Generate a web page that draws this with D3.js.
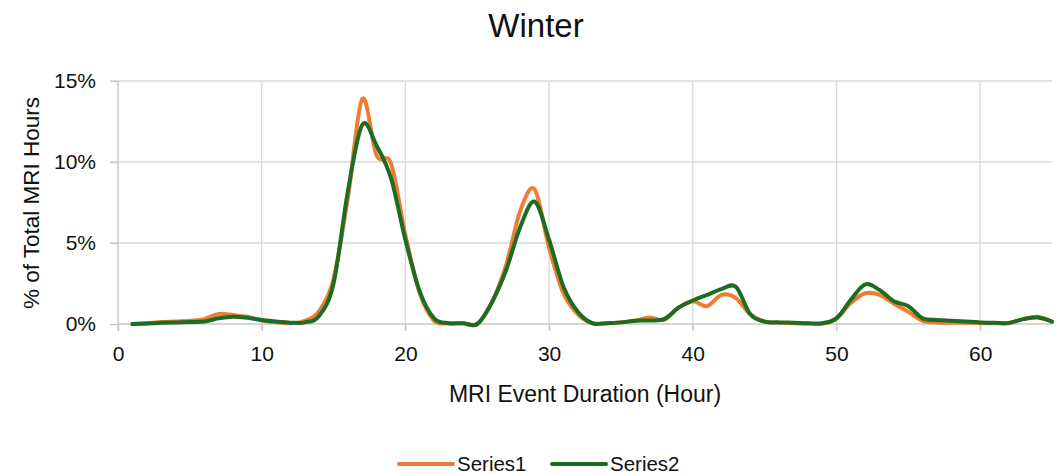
<!DOCTYPE html>
<html>
<head>
<meta charset="utf-8">
<script src="https://cdn.jsdelivr.net/npm/d3@7"></script>
<style>
  html, body { margin: 0; padding: 0; background: #fff; }
  svg { display: block; }
</style>
</head>
<body>
<svg id="chart" width="1064" height="474"></svg>
<script>
// Event duration in hours (x categories)
const hours = [1,2,3,4,5,6,7,8,9,10,11,12,13,14,15,16,17,18,19,20,
  21,22,23,24,25,26,27,28,29,30,31,32,33,34,35,36,37,38,39,40,
  41,42,43,44,45,46,47,48,49,50,51,52,53,54,55,56,57,58,59,60,
  61,62,63,64,65];

// Share of total MRI hours (%) per duration
const series1 = [0,0.05,0.12,0.15,0.2,0.3,0.62,0.55,0.45,0.22,
  0.1,0.05,0.2,0.8,2.8,7.8,13.9,10.4,9.9,5.5,
  1.9,0.2,0.05,0.05,0,1.3,3.6,7.0,8.3,4.7,
  1.9,0.6,0.05,0.05,0.1,0.2,0.4,0.25,1.0,1.4,
  1.1,1.8,1.6,0.6,0.15,0.08,0.05,0.03,0.02,0.35,
  1.3,1.9,1.8,1.25,0.75,0.2,0.1,0.08,0.07,0.06,
  0.05,0.05,0.3,0.45,0.15];

const series2 = [0,0.03,0.07,0.1,0.12,0.15,0.35,0.45,0.38,0.25,
  0.15,0.08,0.1,0.5,2.5,8.2,12.3,11.0,9.0,5.2,
  2.0,0.35,0.05,0.05,0,1.3,3.3,6.0,7.55,5.2,
  2.3,0.75,0.05,0.05,0.1,0.2,0.22,0.3,1.0,1.45,
  1.8,2.15,2.3,0.6,0.15,0.1,0.08,0.05,0.05,0.35,
  1.5,2.45,2.1,1.4,1.1,0.35,0.25,0.2,0.15,0.1,
  0.07,0.07,0.3,0.4,0.15];

const seriesNames = ["Series1", "Series2"];
const seriesColors = ["#ED7D31", "#1E6B23"];

const xTicks = [0,10,20,30,40,50,60];
const yTicks = [0,5,10,15];

const svg = d3.select("#chart");
const font = "'Liberation Sans', Arial, sans-serif";
const plotLeft = 118, plotRight = 1052, plotTop = 81, plotBottom = 324;

const x = d3.scaleLinear().domain([0, 65]).range([plotLeft, plotRight]);
const y = d3.scaleLinear().domain([0, 15]).range([plotBottom, plotTop]);

// Gridlines
const grid = svg.append("g");
grid.selectAll("line.h").data(yTicks.filter(d => d > 0)).join("line")
  .attr("class", "h")
  .attr("x1", plotLeft - 8).attr("x2", plotRight)
  .attr("y1", d => y(d)).attr("y2", d => y(d))
  .attr("stroke", "#d9d9d9").attr("stroke-width", 1.3);
grid.selectAll("line.v").data(xTicks.filter(d => d > 0)).join("line")
  .attr("class", "v")
  .attr("x1", d => x(d)).attr("x2", d => x(d))
  .attr("y1", plotTop).attr("y2", plotBottom + 7)
  .attr("stroke", "#d9d9d9").attr("stroke-width", 1.3);

// Axes
const xAxis = svg.append("g")
  .attr("transform", `translate(0,${plotBottom})`)
  .call(d3.axisBottom(x).tickValues(xTicks).tickSize(7).tickPadding(15).tickFormat(d3.format("d")));
const yAxis = svg.append("g")
  .attr("transform", `translate(${plotLeft},0)`)
  .call(d3.axisLeft(y).tickValues(yTicks).tickSize(8).tickPadding(14).tickFormat(d => d + "%"));

[xAxis, yAxis].forEach(g => {
  g.select(".domain").attr("stroke", "#c8c8c8").attr("stroke-width", 1.5);
  g.selectAll(".tick line").attr("stroke", "#c8c8c8").attr("stroke-width", 1.3);
  g.selectAll(".tick text").attr("font-family", font).attr("font-size", 21).attr("fill", "#111");
});
yAxis.select(".domain").attr("d", `M0,${plotTop}V${plotBottom + 7}`);
xAxis.select(".domain").attr("d", `M${plotLeft},0H${plotRight}`);

// Lines
const line = d3.line()
  .x((d, i) => x(hours[i]))
  .y(d => y(d))
  .curve(d3.curveCardinal.tension(0));

[series1, series2].forEach((s, k) => {
  svg.append("path")
    .datum(s)
    .attr("d", line)
    .attr("fill", "none")
    .attr("stroke", seriesColors[k])
    .attr("stroke-width", 4)
    .attr("stroke-linejoin", "round")
    .attr("stroke-linecap", "round");
});

// Title and axis titles
svg.append("text")
  .attr("x", 536).attr("y", 37)
  .attr("text-anchor", "middle")
  .attr("font-family", font).attr("font-size", 33).attr("fill", "#111")
  .text("Winter");

svg.append("text")
  .attr("x", 585).attr("y", 402)
  .attr("text-anchor", "middle")
  .attr("font-family", font).attr("font-size", 23).attr("fill", "#111")
  .text("MRI Event Duration (Hour)");

svg.append("text")
  .attr("transform", `translate(39,203) rotate(-90)`)
  .attr("text-anchor", "middle")
  .attr("font-family", font).attr("font-size", 22.5).attr("fill", "#111")
  .text("% of Total MRI Hours");

// Legend
const legendX = [399, 552];
const legend = svg.append("g");
seriesNames.forEach((name, k) => {
  legend.append("line")
    .attr("x1", legendX[k]).attr("x2", legendX[k] + 54)
    .attr("y1", 464).attr("y2", 464)
    .attr("stroke", seriesColors[k]).attr("stroke-width", 4)
    .attr("stroke-linecap", "round");
  legend.append("text")
    .attr("x", legendX[k] + 58).attr("y", 471)
    .attr("font-family", font).attr("font-size", 20.5).attr("fill", "#111")
    .text(name);
});
</script>
</body>
</html>
